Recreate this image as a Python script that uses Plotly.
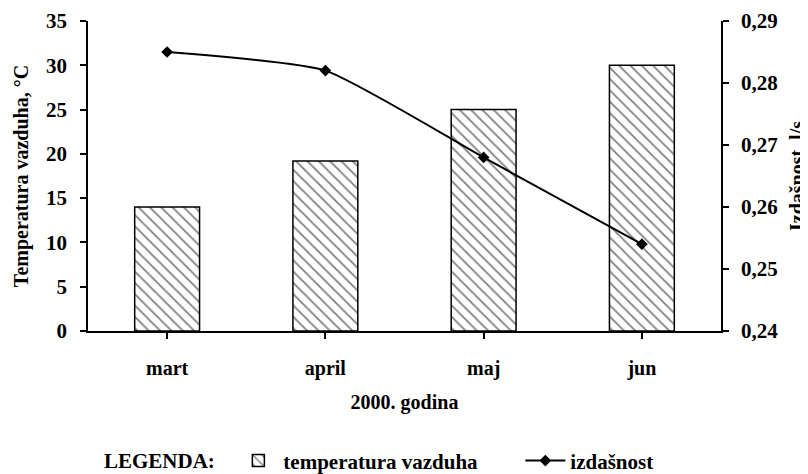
import plotly.graph_objects as go

months = ["mart", "april", "maj", "jun"]
temperatura = [14.0, 19.2, 25.0, 30.0]
izdasnost = [0.285, 0.282, 0.268, 0.254]

FONT = "Liberation Serif"
def f(size):
    return dict(family=FONT, size=size, color="black", weight="bold")

fig = go.Figure()
fig.add_trace(go.Bar(
    x=months, y=temperatura, name="temperatura vazduha",
    marker=dict(color="white", line=dict(color="black", width=1.5),
                pattern=dict(shape="\\", fgcolor="black", bgcolor="white", size=8, solidity=0.22)),
    yaxis="y",
))
fig.add_trace(go.Scatter(
    x=months, y=izdasnost, name="izdašnost", mode="lines+markers",
    line=dict(color="black", width=2, shape="spline", smoothing=0.5),
    marker=dict(symbol="diamond", size=9, color="black"),
    yaxis="y2",
))

# the page adds an 8px body margin, so the figure is sized and margined to compensate
fig.update_layout(
    width=800, height=466,
    margin=dict(l=80, r=87, t=13, b=143),
    paper_bgcolor="white", plot_bgcolor="white",
    font=f(20),
    bargap=0.59,
    showlegend=True,
    separators=",.",
    legend=dict(orientation="h", xref="paper", x=0.06, xanchor="left",
                yref="container", y=0.028, yanchor="middle",
                title=dict(text="LEGENDA:  ", side="left", font=f(21)),
                font=f(21), entrywidth=232, entrywidthmode="pixels", itemwidth=40),
    xaxis=dict(showline=True, linecolor="black", linewidth=1.5, ticks="outside", ticklen=6,
               tickcolor="black", tickwidth=1.5, automargin=False, ticklabelstandoff=12,
               tickfont=f(20),
               title=dict(text="2000. godina", font=f(20), standoff=16),
               showgrid=False),
    yaxis=dict(range=[0, 35], dtick=5, showline=True, linecolor="black", linewidth=1.5,
               ticks="outside", ticklen=6, tickcolor="black", tickwidth=1.5, showgrid=False,
               zeroline=False, automargin=False, ticklabelstandoff=9,
               tickfont=f(21),
               title=dict(text="Temperatura vazduha, °C", font=f(20), standoff=12)),
    yaxis2=dict(range=[0.24, 0.29], dtick=0.01, overlaying="y", side="right", showline=True,
                linecolor="black", linewidth=1.5, ticks="outside", ticklen=6, tickcolor="black",
                tickwidth=1.5, showgrid=False, zeroline=False, tickformat=".2f", automargin=False,
                ticklabelstandoff=8,
                tickfont=f(21),
                title=dict(text="Izdašnost, l/s", font=f(20), standoff=16)),
)

fig.write_html("out.html")
